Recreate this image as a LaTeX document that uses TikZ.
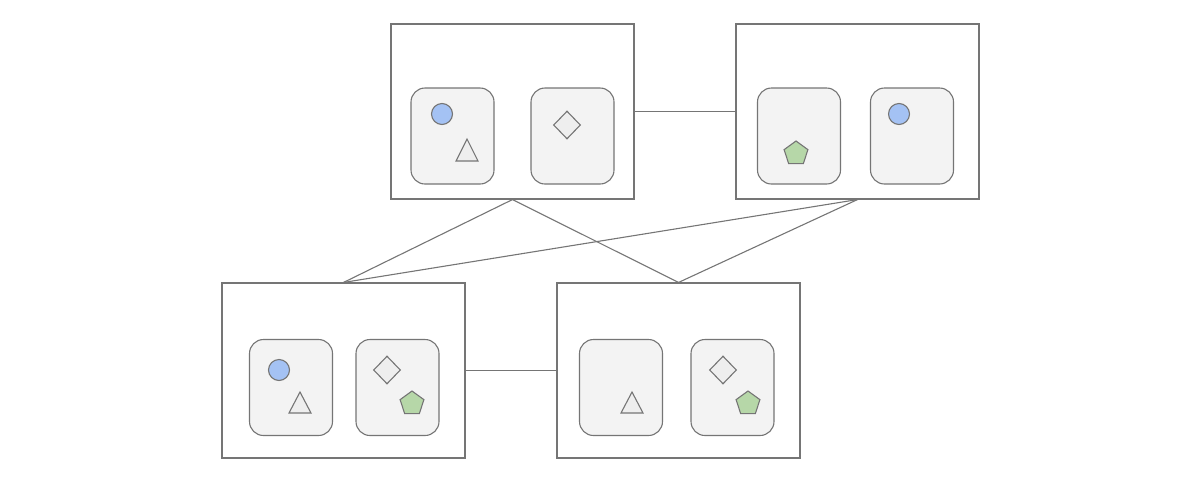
\documentclass[tikz,border=0pt]{standalone}
\usetikzlibrary{shapes.geometric}
\definecolor{edge}{HTML}{757575}
\definecolor{cardfill}{HTML}{F3F3F3}
\definecolor{shapefill}{HTML}{EEEEEE}
\definecolor{blueC}{HTML}{A4C2F4}
\definecolor{greenC}{HTML}{B6D7A8}
\tikzset{
  outer/.style={draw=edge, line width=1.1pt, fill=white, rectangle, minimum width=243pt, minimum height=175pt, inner sep=0pt},
  card/.style={draw=edge, line width=1.1pt, fill=cardfill, rectangle, rounded corners=14pt, minimum width=83pt, minimum height=96pt, inner sep=0pt},
  conn/.style={draw=edge, line width=1.1pt},
  circ/.style={circle, draw=edge, line width=1.1pt, fill=blueC, minimum size=21pt, inner sep=0pt},
  dia/.style={diamond, draw=edge, line width=1.1pt, fill=shapefill, minimum width=27pt, minimum height=28pt, inner sep=0pt},
  pent/.style={regular polygon, regular polygon sides=5, draw=edge, line width=1.1pt, fill=greenC, minimum size=25pt, inner sep=0pt},
  tri/.style={draw=edge, line width=1.1pt, fill=shapefill, line join=miter}
}
\begin{document}
\begin{tikzpicture}[x=1pt,y=-1pt]
\useasboundingbox (0,0) rectangle (1198,480);
% outer boxes
\node[outer] (A) at (512.5,111.5) {};
\node[outer] (B) at (857.5,111.5) {};
\node[outer] (C) at (343.5,370.5) {};
\node[outer] (D) at (678.5,370.5) {};
% connectors
\draw[conn] (A.east) -- (B.west);
\draw[conn] (C.east) -- (D.west);
\draw[conn] (A.south) -- (C.north);
\draw[conn] (A.south) -- (D.north);
\draw[conn] (B.south) -- (C.north);
\draw[conn] (B.south) -- (D.north);
% cards
\node[card] (A1) at (452.5,136) {};
\node[card] (A2) at (572.5,136) {};
\node[card] (B1) at (799,136) {};
\node[card] (B2) at (912,136) {};
\node[card] (C1) at (291,387.5) {};
\node[card] (C2) at (397.5,387.5) {};
\node[card] (D1) at (621,387.5) {};
\node[card] (D2) at (732.5,387.5) {};
% shapes A
\node[circ] (a1c) at (442,114) {};
\draw[tri] (467,139) -- (456,161) -- (478,161) -- cycle;
\node[dia] (a2d) at (567,125) {};
% shapes B
\node[pent] (b1p) at (796,153.5) {};
\node[circ] (b2c) at (899,114) {};
% shapes C
\node[circ] (c1c) at (279,370) {};
\draw[tri] (300,392) -- (289,413) -- (311,413) -- cycle;
\node[dia] (c2d) at (387,370) {};
\node[pent] (c2p) at (412,403.5) {};
% shapes D
\draw[tri] (632,392) -- (621,413) -- (643,413) -- cycle;
\node[dia] (d2d) at (723,370) {};
\node[pent] (d2p) at (748,403.5) {};
\end{tikzpicture}
\end{document}
